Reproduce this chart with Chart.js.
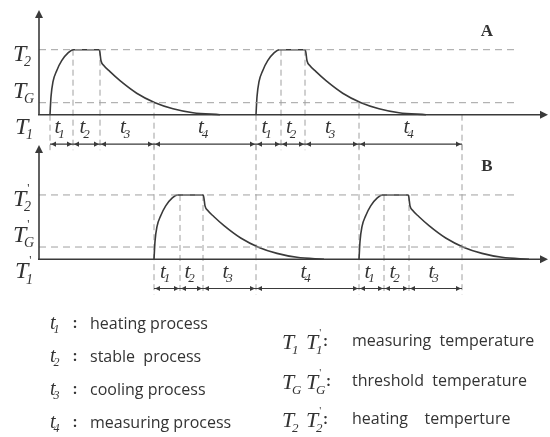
<!DOCTYPE html>
<html><head><meta charset="utf-8">
<script src="https://cdn.jsdelivr.net/npm/chart.js@4"></script>
<style>html,body{margin:0;padding:0;background:#fff}#wrap{position:relative;width:550px;height:437px}</style>
</head><body><div id="wrap"><canvas id="c" width="550" height="437"></canvas></div>
<script>
// One heating/stable/cooling cycle (time units, temperature units above T1)
const profileTime = [0, 0.1, 0.3, 0.67, 1.17, 1.83, 2.33, 4.93, 5.1, 5.4, 6.0, 7.0, 8.67, 10.5, 12.3, 14.3, 17.0];
const profileTemp = [0, 1.8, 3.3, 4.4, 5.4, 6.2, 6.5, 6.5, 5.4, 4.9, 4.3, 3.4, 2.15, 1.2, 0.6, 0.2, 0];
// cycle start times per panel
const cycleStartsA = [1.1, 21.7];
const cycleStartsB = [11.5, 32.0];
// phase boundaries per panel
const boundsA = [1.1, 3.4, 6.1, 11.5, 21.7, 24.2, 26.6, 32.0, 42.3];
const boundsB = [11.5, 14.1, 16.4, 21.7, 32.0, 34.5, 37.0, 42.3];
// temperature levels
const levelsA = { T1: 0, TG: 1.2, T2: 6.5 };
const levelsB = { T1: 0, TG: 1.24, T2: 6.5 };
const refLineEnd = 47.6;
const axisEnd = 50.9;
const axisTopA = 10.47;
const axisTopB = 11.55;
const rowValue = -2.95;
// phase subscripts
const phaseSubs = ['1', '2', '3', '4'];
// legend texts
const legendLeftSubs = ['1', '2', '3', '4'];
const legendLeftText = ['heating process', 'stable  process', 'cooling process', 'measuring process'];
const legendRightSubs = ['1', 'G', '2'];
const legendRightText = ['measuring  temperature', 'threshold  temperature', 'heating    temperture'];
const panelNames = ['A', 'B'];

const INK = '#3a3a3a', DASH = '#a0a0a0', TXT = '#333';

function cycleData(start) {
  return profileTime.map((t, i) => ({ x: start + t, y: profileTemp[i] }));
}
const datasets = [];
function refLine(level, axis) {
  datasets.push({ data: [{ x: 0, y: level }, { x: refLineEnd, y: level }], yAxisID: axis,
    borderColor: DASH, borderWidth: 1, borderDash: [7, 5], pointRadius: 0, tension: 0 });
}
refLine(levelsA.T2, 'yA'); refLine(levelsA.TG, 'yA');
refLine(levelsB.T2, 'yB'); refLine(levelsB.TG, 'yB');
cycleStartsA.forEach(s => datasets.push({ data: cycleData(s), yAxisID: 'yA', borderColor: INK, borderWidth: 1.6,
  pointRadius: 0, cubicInterpolationMode: 'monotone' }));
cycleStartsB.forEach(s => datasets.push({ data: cycleData(s), yAxisID: 'yB', borderColor: INK, borderWidth: 1.6,
  pointRadius: 0, cubicInterpolationMode: 'monotone' }));

function sym(ctx, x, y, base, sub, prime, size) {
  ctx.textAlign = 'left'; ctx.textBaseline = 'alphabetic';
  ctx.font = 'italic ' + size + 'px "Liberation Serif"';
  ctx.fillText(base, x, y);
  const w = ctx.measureText(base).width;
  if (prime) {
    ctx.font = Math.round(size * 0.5) + 'px "Liberation Serif"';
    ctx.fillText("'", x + w + 1, y - size * 0.6);
  }
  ctx.font = 'italic ' + Math.round(size * 0.6) + 'px "Liberation Serif"';
  ctx.fillText(sub, x + w - size * 0.1, y + size * 0.22);
  return x + w - size * 0.1 + ctx.measureText(sub).width;
}
function tri(ctx, x, y, dir, len, half) {
  ctx.beginPath();
  if (dir === 'r') { ctx.moveTo(x, y); ctx.lineTo(x - len, y - half); ctx.lineTo(x - len, y + half); }
  if (dir === 'l') { ctx.moveTo(x, y); ctx.lineTo(x + len, y - half); ctx.lineTo(x + len, y + half); }
  if (dir === 'u') { ctx.moveTo(x, y); ctx.lineTo(x - half, y + len); ctx.lineTo(x + half, y + len); }
  ctx.closePath(); ctx.fill();
}
function levelFor(i, n, levels) {
  if (i === n - 1) return levels.T1;
  return [levels.T1, levels.T2, levels.T2, levels.TG][i % 4];
}

const diagram = {
  id: 'diagram',
  beforeDatasetsDraw(chart) {
    const ctx = chart.ctx, x = chart.scales.x, yA = chart.scales.yA, yB = chart.scales.yB;
    const rowA = yA.getPixelForValue(rowValue), rowB = yB.getPixelForValue(rowValue);
    ctx.save();
    ctx.strokeStyle = DASH; ctx.lineWidth = 1; ctx.setLineDash([6, 4]);
    boundsA.forEach((b, i) => {
      const px = x.getPixelForValue(b);
      ctx.beginPath(); ctx.moveTo(px, yA.getPixelForValue(levelFor(i, boundsA.length, levelsA)));
      ctx.lineTo(px, rowA + 6); ctx.stroke();
    });
    boundsB.forEach((b, i) => {
      const px = x.getPixelForValue(b);
      const top = boundsA.includes(b) ? rowA : yB.getPixelForValue(levelFor(i, boundsB.length, levelsB));
      ctx.beginPath(); ctx.moveTo(px, top); ctx.lineTo(px, rowB + 6); ctx.stroke();
    });
    ctx.restore();
  },
  afterDatasetsDraw(chart) {
    const ctx = chart.ctx, x = chart.scales.x;
    ctx.save();
    ctx.strokeStyle = INK; ctx.fillStyle = INK; ctx.lineWidth = 1.6;
    [['yA', axisTopA, boundsA], ['yB', axisTopB, boundsB]].forEach(([id, topV, bounds], p) => {
      const y = chart.scales[id];
      const x0 = x.getPixelForValue(0), y0 = y.getPixelForValue(0);
      const yt = y.getPixelForValue(topV), xe = x.getPixelForValue(axisEnd);
      ctx.lineWidth = 1.6;
      ctx.beginPath(); ctx.moveTo(x0, y0); ctx.lineTo(x0, yt + 6); ctx.stroke();
      ctx.beginPath(); ctx.moveTo(x0 - 1, y0); ctx.lineTo(xe - 6, y0); ctx.stroke();
      tri(ctx, x0, yt, 'u', 8, 4); tri(ctx, xe, y0, 'r', 8, 4);
      // interval arrows
      const row = y.getPixelForValue(rowValue);
      ctx.lineWidth = 1.2;
      ctx.beginPath(); ctx.moveTo(x.getPixelForValue(bounds[0]), row);
      ctx.lineTo(x.getPixelForValue(bounds[bounds.length - 1]), row); ctx.stroke();
      for (let i = 0; i < bounds.length - 1; i++) {
        const a = x.getPixelForValue(bounds[i]), b = x.getPixelForValue(bounds[i + 1]);
        tri(ctx, a + 1, row, 'l', 5, 2.6); tri(ctx, b - 1, row, 'r', 5, 2.6);
        ctx.fillStyle = TXT;
        const mid = (a + b) / 2;
        sym(ctx, mid - 7, row - 11, 't', phaseSubs[i % 4], false, 21);
        ctx.fillStyle = INK;
      }
      // level labels
      const lv = p === 0 ? levelsA : levelsB;
      const prime = p === 1;
      ctx.fillStyle = TXT;
      sym(ctx, 13, y.getPixelForValue(lv.T2) + 11, 'T', '2', prime, 24);
      sym(ctx, 13, y.getPixelForValue(lv.TG) - 5, 'T', 'G', prime, 24);
      sym(ctx, 15, y0 + 19, 'T', '1', prime, 24);
      // panel name
      ctx.font = 'bold 17px "Liberation Serif"'; ctx.textAlign = 'center';
      ctx.fillText(panelNames[p], 487, y.getPixelForValue(topV) + 26);
      ctx.fillStyle = INK;
    });
    // legend
    ctx.fillStyle = TXT;
    legendLeftText.forEach((t, i) => {
      const yy = [329, 362, 395, 428][i];
      sym(ctx, 50, yy, 't', legendLeftSubs[i], false, 20);
      ctx.font = 'bold 14px "Open Sans"'; ctx.textAlign = 'left';
      ctx.fillText(':', 73, yy - 1);
      ctx.font = '16px "Open Sans"';
      ctx.fillText(t, 90, yy);
    });
    legendRightText.forEach((t, i) => {
      const yy = [346, 386, 424][i];
      sym(ctx, 282, yy + 3, 'T', legendRightSubs[i], false, 22);
      const e = sym(ctx, 306, yy + 3, 'T', legendRightSubs[i], true, 22);
      ctx.font = 'bold 14px "Open Sans"'; ctx.textAlign = 'left';
      ctx.fillText(':', e + 1, yy);
      ctx.font = '16px "Open Sans"';
      ctx.fillText(t, 352, yy);
    });
    ctx.restore();
  }
};

new Chart(document.getElementById('c'), {
  type: 'line',
  data: { datasets },
  options: {
    responsive: false, animation: false, devicePixelRatio: 1,
    layout: { padding: { left: 39, right: 1, top: 8, bottom: 137 } },
    plugins: { legend: { display: false }, tooltip: { enabled: false }, title: { display: false } },
    scales: {
      x: { type: 'linear', min: 0, max: 51, display: false },
      yA: { type: 'linear', min: -18.53, max: 10.67, display: false },
      yB: { type: 'linear', min: -4.11, max: 25.38, display: false }
    }
  },
  plugins: [diagram]
});
</script></body></html>
